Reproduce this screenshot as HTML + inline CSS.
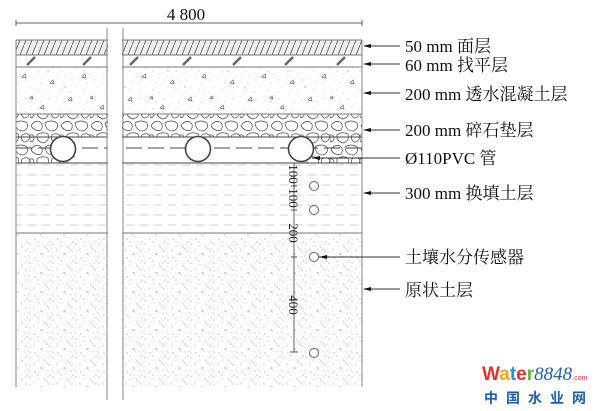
<!DOCTYPE html>
<html><head><meta charset="utf-8"><style>
html,body{margin:0;padding:0;background:#fff;}
svg{display:block;}
.lb{font-family:"Liberation Serif","Noto Serif CJK SC",serif;font-size:17px;fill:#111;}
</style></head><body>
<svg width="610" height="411" viewBox="0 0 610 411" xmlns="http://www.w3.org/2000/svg">
<defs>
<pattern id="hatch" width="6" height="15" patternUnits="userSpaceOnUse">
<line x1="0" y1="15" x2="6" y2="0" stroke="#555" stroke-width="0.8"/>
</pattern>
<pattern id="stip" width="23" height="19" patternUnits="userSpaceOnUse">
<circle cx="3" cy="4" r="0.6" fill="#999"/><circle cx="11" cy="2" r="0.5" fill="#aaa"/>
<circle cx="18" cy="7" r="0.6" fill="#999"/><circle cx="7" cy="11" r="0.5" fill="#aaa"/>
<circle cx="15" cy="14" r="0.6" fill="#999"/><circle cx="2" cy="16" r="0.5" fill="#aaa"/>
<circle cx="21" cy="17" r="0.5" fill="#aaa"/><circle cx="10" cy="7" r="0.4" fill="#bbb"/>
<circle cx="19" cy="2" r="0.4" fill="#bbb"/><circle cx="6" cy="1" r="0.4" fill="#bbb"/>
<circle cx="13" cy="18" r="0.4" fill="#bbb"/><circle cx="1" cy="9" r="0.4" fill="#bbb"/>
</pattern>
<pattern id="conc" width="60" height="47" patternUnits="userSpaceOnUse">
<path d="M8 6l3 -3 1 4z M40 14l3-3 1 4z M22 30l3-3 1 4z M50 36l3-3 1 4z M30 4l2-2 1 3z" fill="none" stroke="#666" stroke-width="0.7"/>
<circle cx="15" cy="20" r="0.6" fill="#888"/><circle cx="48" cy="24" r="0.6" fill="#888"/><circle cx="5" cy="40" r="0.6" fill="#888"/>
</pattern>
<pattern id="peb" width="30" height="24" patternUnits="userSpaceOnUse">
<path d="M1 6 Q4 0 10 2 Q14 5 11 10 Q5 12 1 6z" fill="none" stroke="#444" stroke-width="0.7"/>
<path d="M15 3 Q21 -1 27 3 Q29 9 23 11 Q16 11 15 3z" fill="none" stroke="#444" stroke-width="0.7"/>
<path d="M7 15 Q12 11 18 14 Q20 21 13 23 Q6 21 7 15z" fill="none" stroke="#444" stroke-width="0.7"/>
<path d="M22 15 Q27 12 30 16 Q29 22 24 22 Q20 19 22 15z" fill="none" stroke="#444" stroke-width="0.7"/>
<path d="M0 15 Q4 14 4 19 Q2 23 0 21z" fill="none" stroke="#444" stroke-width="0.7"/>
</pattern>
<pattern id="fill" width="14" height="10" patternUnits="userSpaceOnUse">
<line x1="0" y1="5" x2="8" y2="5" stroke="#c8c8c8" stroke-width="0.8"/>
</pattern>
<clipPath id="soil"><rect x="16" y="233" width="346" height="154"/></clipPath>
</defs>

<line x1="16" y1="23" x2="362" y2="23" stroke="#333" stroke-width="0.8"/>
<line x1="16" y1="20" x2="16" y2="26" stroke="#333" stroke-width="0.8"/>
<line x1="362" y1="20" x2="362" y2="26" stroke="#333" stroke-width="0.8"/>
<text x="186" y="20" class="lb" font-size="15" text-anchor="middle">4 800</text>

<rect x="16" y="40" width="346" height="15" fill="#eee"/>
<rect x="16" y="40" width="346" height="15" fill="url(#hatch)"/>
<rect x="16" y="67" width="346" height="47" fill="url(#conc)"/>
<rect x="16" y="67" width="346" height="47" fill="url(#stip)" opacity="0.7"/>
<rect x="16" y="114" width="346" height="49" fill="url(#peb)"/>
<rect x="75" y="137" width="226" height="26" fill="#fff"/>
<rect x="16" y="163" width="346" height="70" fill="url(#fill)"/>
<g clip-path="url(#soil)">
<rect x="16" y="233" width="346" height="154" fill="url(#stip)"/>
<rect x="16" y="226" width="346" height="164" fill="url(#stip)" transform="translate(9 7)"/>
<rect x="16" y="226" width="346" height="164" fill="url(#stip)" transform="translate(4 12)"/>
</g>
<g stroke="#666" stroke-width="2.5">
<line x1="27" y1="65" x2="35" y2="57"/><line x1="83" y1="65" x2="91" y2="57"/>
<line x1="130" y1="65" x2="138" y2="57"/><line x1="183" y1="65" x2="191" y2="57"/>
<line x1="233" y1="65" x2="241" y2="57"/><line x1="285" y1="65" x2="293" y2="57"/>
<line x1="337" y1="65" x2="345" y2="57"/>
</g>
<g stroke="#777" stroke-width="0.9" fill="none">
<line x1="16" y1="40" x2="362" y2="40"/>
<line x1="16" y1="55" x2="362" y2="55"/>
<line x1="16" y1="67" x2="362" y2="67"/>
<line x1="16" y1="114" x2="362" y2="114"/>
<line x1="16" y1="137" x2="362" y2="137" stroke="#444"/>
<line x1="16" y1="163" x2="362" y2="163" stroke="#444"/>
<line x1="16" y1="233" x2="362" y2="233"/>
<line x1="16" y1="40" x2="16" y2="387"/>
<line x1="362" y1="40" x2="362" y2="387"/>
</g>
<line x1="16" y1="148" x2="362" y2="148" stroke="#444" stroke-width="0.9" stroke-dasharray="16,6"/>
<g fill="#fff" stroke="#444" stroke-width="1.6">
<circle cx="63" cy="149" r="12.5"/><circle cx="198" cy="149" r="12.5"/><circle cx="301" cy="149" r="12.5"/>
</g>
<rect x="108" y="28" width="14" height="375" fill="#fff"/>
<line x1="107" y1="28" x2="107" y2="400" stroke="#888" stroke-width="1"/>
<line x1="123" y1="28" x2="123" y2="400" stroke="#888" stroke-width="1"/>

<line x1="294" y1="163" x2="294" y2="352" stroke="#555" stroke-width="0.9"/>
<g stroke="#444" stroke-width="0.9">
<line x1="291" y1="186" x2="297" y2="186"/><line x1="294" y1="183" x2="294" y2="189"/>
<line x1="291" y1="210" x2="297" y2="210"/>
<line x1="291" y1="257" x2="297" y2="257"/>
<line x1="290" y1="352" x2="298" y2="352"/>
</g>
<g style="font-family:'Liberation Serif',serif;font-size:13px" fill="#222">
<text transform="translate(289 174) rotate(90)" text-anchor="middle">100</text>
<text transform="translate(289 198) rotate(90)" text-anchor="middle">100</text>
<text transform="translate(289 233) rotate(90)" text-anchor="middle">200</text>
<text transform="translate(289 305) rotate(90)" text-anchor="middle">400</text>
</g>
<g fill="#fff" stroke="#666" stroke-width="1">
<circle cx="314" cy="186" r="4.5"/><circle cx="314" cy="210" r="4.5"/>
<circle cx="314" cy="257" r="4.5"/><circle cx="314" cy="353" r="4.5"/>
</g>

<g stroke="#333" stroke-width="0.9">
<line x1="364" y1="46" x2="400" y2="46"/><line x1="364" y1="64" x2="400" y2="64"/>
<line x1="364" y1="93" x2="400" y2="93"/><line x1="364" y1="130" x2="400" y2="130"/>
<line x1="312" y1="158" x2="400" y2="158"/><line x1="364" y1="193" x2="400" y2="193"/>
<line x1="319" y1="257" x2="400" y2="257"/><line x1="364" y1="289" x2="400" y2="289"/>
</g>
<g fill="#111">
<path d="M363 46l8-2v4z"/><path d="M363 64l8-2v4z"/><path d="M363 93l8-2v4z"/><path d="M363 130l8-2v4z"/>
<path d="M312 158l8-2v4z"/><path d="M363 193l8-2v4z"/><path d="M319 257l8-2v4z"/><path d="M363 289l8-2v4z"/>
</g>
<g class="lb">
<text x="405" y="52">50 mm 面层</text>
<text x="405" y="71">60 mm 找平层</text>
<text x="405" y="100">200 mm 透水混凝土层</text>
<text x="405" y="136">200 mm 碎石垫层</text>
<text x="405" y="164">Ø110PVC 管</text>
<text x="405" y="199">300 mm 换填土层</text>
<text x="405" y="263">土壤水分传感器</text>
<text x="405" y="296">原状土层</text>
</g>

<text x="482" y="380" style="font-family:'Liberation Sans',sans-serif;font-size:19px;font-weight:bold"><tspan fill="#e8312f">W</tspan><tspan fill="#f3a51b">a</tspan><tspan fill="#2a8fd6">t</tspan><tspan fill="#e8312f">e</tspan><tspan fill="#6ab42d">r</tspan><tspan fill="#2361ad" font-style="italic" font-weight="normal" style="font-family:'Liberation Serif',serif">8848</tspan><tspan fill="#e8312f" font-size="7" font-weight="normal">.com</tspan></text>
<text x="484" y="403" style="font-family:'Noto Sans CJK SC',sans-serif;font-size:14px;font-weight:bold;letter-spacing:8px" fill="#1f5fae">中国水业网</text>
</svg>
</body></html>
